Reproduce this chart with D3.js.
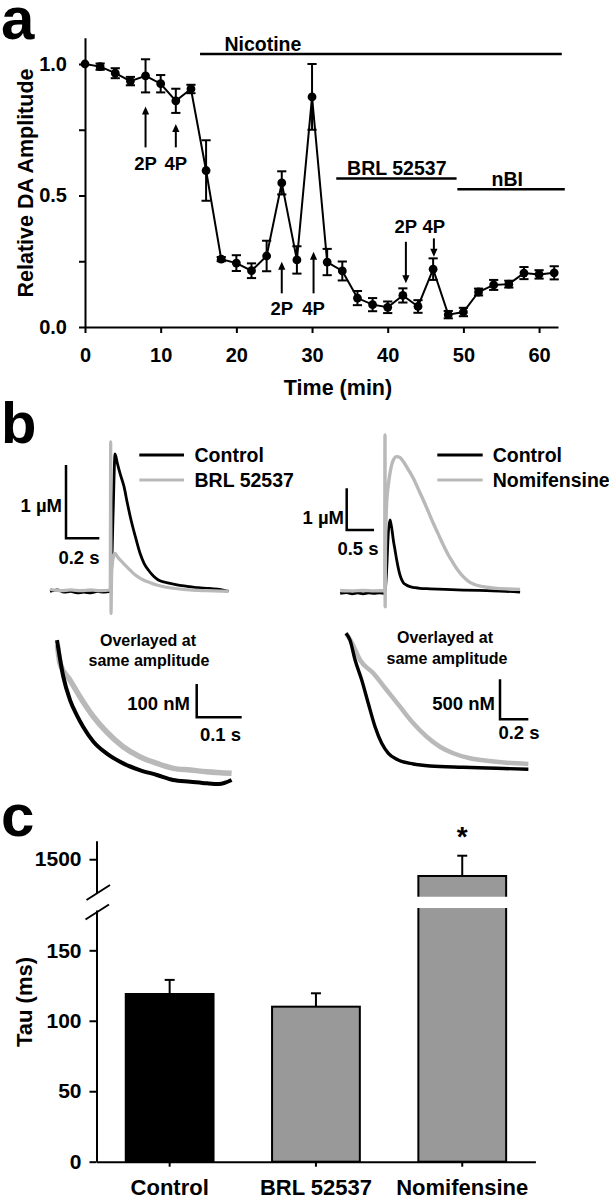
<!DOCTYPE html>
<html><head><meta charset="utf-8">
<script src="https://cdn.jsdelivr.net/npm/d3@7"></script>
<style>
body{margin:0;background:#fff;}
svg text{font-family:"Liberation Sans",Arial,sans-serif;font-weight:bold;fill:#000;}
</style></head><body>
<script>
// ================= DATA =================
// Panel a: relative DA amplitude over time
const timeMin = [0,2,4,6,8,10,12,14,16,18,20,22,24,26,28,30,32,34,36,38,40,42,44,46,48,50,52,54,56,58,60,62];
const amplitude = [1.00,0.99,0.965,0.935,0.955,0.925,0.86,0.905,0.595,0.258,0.243,0.214,0.27,0.548,0.255,0.875,0.247,0.213,0.11,0.085,0.075,0.12,0.078,0.22,0.047,0.057,0.133,0.16,0.163,0.205,0.2,0.206];
const amplitudeSEM = [0,0.012,0.019,0.016,0.063,0.033,0.046,0.016,0.115,0.008,0.03,0.028,0.058,0.044,0.052,0.125,0.05,0.036,0.027,0.025,0.022,0.027,0.024,0.041,0.014,0.016,0.013,0.019,0.013,0.023,0.016,0.025];
const aXTicks = [0,10,20,30,40,50,60];
const aYTicks = [0,0.25,0.5,0.75,1.0];
const aYLabels = ["0.0","","0.5","","1.0"];

const drugNames = ["Nicotine","BRL 52537","nBI"];
const drugStart = [15.2,33.2,49.2];
const drugEnd = [63.0,49.1,63.4];
const drugLevel = [1.038,0.565,0.524];
const drugLabelTime = [23.5,41.2,55.8];

const pulseLabels = ["2P","4P","2P","4P","2P","4P"];
const pulseTime = [8,12,26,30.2,42.4,46.1];
const arrowTail = [0.683,0.683,0.128,0.128,0.324,0.337];
const arrowHead = [0.838,0.772,0.248,0.286,0.166,0.267];
const pulseLabelLevel = [0.622,0.622,0.071,0.071,0.381,0.381];

// Panel b: voltammetric traces [time (s), concentration (µM)]
const ctrlTraceBRL = [[-0.364,-0.01],[-0.32,0.01],[-0.28,-0.02],[-0.24,-0.01],[-0.2,-0.03],[-0.16,-0.02],[-0.12,-0.03],[-0.08,-0.01],[-0.04,-0.02],[-0.004,-0.01],[0.004,0.2],[0.015,1.1],[0.026,1.865],[0.04,1.738],[0.056,1.6],[0.08,1.419],[0.1,1.192],[0.122,0.965],[0.148,0.737],[0.176,0.51],[0.2,0.374],[0.226,0.282],[0.256,0.2],[0.286,0.146],[0.326,0.115],[0.376,0.091],[0.426,0.07],[0.476,0.055],[0.526,0.04],[0.576,0.033],[0.64,0.02],[0.706,-0.01]];
const brlTrace = [[-0.364,0.02],[-0.3,0.0],[-0.24,0.01],[-0.18,0.0],[-0.12,0.01],[-0.06,0.0],[-0.003,0.01],[0,2.03],[0.002,-0.31],[0.006,0.25],[0.015,0.45],[0.026,0.51],[0.04,0.464],[0.076,0.374],[0.106,0.305],[0.136,0.237],[0.166,0.185],[0.196,0.146],[0.236,0.11],[0.276,0.078],[0.326,0.05],[0.376,0.033],[0.426,0.02],[0.476,0.01],[0.576,0.0],[0.706,-0.01]];
const ctrlTraceNom = [[-0.82,-0.04],[-0.7,-0.02],[-0.6,-0.05],[-0.5,-0.03],[-0.4,-0.05],[-0.3,-0.03],[-0.2,-0.04],[-0.1,-0.03],[-0.005,-0.04],[0.03,0.52],[0.06,1.4],[0.091,1.72],[0.11,1.62],[0.128,1.48],[0.152,1.24],[0.183,1.0],[0.214,0.76],[0.244,0.56],[0.274,0.4],[0.305,0.29],[0.335,0.216],[0.39,0.16],[0.457,0.12],[0.55,0.095],[0.64,0.08],[0.823,0.07],[1.1,0.055],[1.43,0.04],[1.86,0.024],[2.2,0.01],[2.47,-0.01]];
const nomTrace = [[-0.82,0.03],[-0.6,0.02],[-0.4,0.03],[-0.2,0.02],[-0.005,0.03],[0,3.76],[0.003,-0.36],[0.008,1.0],[0.03,2.12],[0.061,2.56],[0.091,2.84],[0.152,3.16],[0.214,3.24],[0.274,3.22],[0.335,3.12],[0.426,2.93],[0.518,2.72],[0.609,2.46],[0.7,2.2],[0.792,1.92],[0.883,1.64],[0.975,1.38],[1.066,1.12],[1.158,0.88],[1.25,0.68],[1.34,0.5],[1.43,0.36],[1.52,0.256],[1.615,0.184],[1.8,0.12],[2.04,0.08],[2.25,0.065],[2.47,0.056]];
const ctrlOverlayBRL = [[0,0.45],[0.014,0.34],[0.029,0.27],[0.044,0.225],[0.058,0.19],[0.081,0.145],[0.11,0.11],[0.147,0.08],[0.184,0.06],[0.222,0.045],[0.258,0.03],[0.296,0.025],[0.333,0.02],[0.36,0.018],[0.388,0.03]];
const brlOverlay = [[0.001,0.435],[0.0067,0.38],[0.029,0.33],[0.051,0.28],[0.081,0.22],[0.11,0.175],[0.147,0.13],[0.184,0.1],[0.222,0.08],[0.258,0.065],[0.296,0.06],[0.333,0.055],[0.388,0.05]];
const ctrlOverlayNom = [[0,1.71],[0.028,1.625],[0.064,1.375],[0.111,1.125],[0.157,0.834],[0.205,0.541],[0.252,0.334],[0.299,0.209],[0.358,0.134],[0.475,0.075],[0.593,0.05],[0.828,0.034],[1.064,0.021],[1.287,0.009]];
const nomOverlay = [[0,1.71],[0.042,1.59],[0.099,1.375],[0.193,1.209],[0.287,1.0],[0.381,0.791],[0.475,0.584],[0.57,0.416],[0.663,0.291],[0.757,0.209],[0.875,0.146],[0.993,0.116],[1.134,0.091],[1.287,0.075]];

// Panel c: decay constant
const tauGroups = ["Control","BRL 52537","Nomifensine"];
const tauMean = [119,110,1433];
const tauSEM = [10,9.5,81];
const cLowTicks = [0,50,100,150];
const cHighTicks = [1500];

// ================= DRAW =================
const W = 609, H = 1199;
const svg = d3.select("body").append("svg").attr("width",W).attr("height",H).style("display","block");
svg.append("rect").attr("width",W).attr("height",H).attr("fill","#fff");
const GRAY = "#b9b9b9";

function styleAxis(g, fs){
  g.attr("font-size",fs);
  g.selectAll("path,line").attr("stroke","#000").attr("stroke-width",2);
  g.selectAll("text").attr("fill","#000");
}

// panel letters
svg.append("text").attr("x",1).attr("y",39).attr("font-size",60).text("a");
svg.append("text").attr("x",1).attr("y",443).attr("font-size",58).text("b");
svg.append("text").attr("x",1).attr("y",836).attr("font-size",60).text("c");

// ---------- Panel a ----------
const xA = d3.scaleLinear().domain([0,62.5]).range([85,558]);
const yA = d3.scaleLinear().domain([0,1.1]).range([327,37.7]);
const gA = svg.append("g");

gA.append("g").attr("transform",`translate(${xA(0)},0)`)
  .call(d3.axisLeft(yA).tickValues(aYTicks).tickFormat((d,i)=>aYLabels[i]).tickSize(6).tickSizeOuter(0).tickPadding(12))
  .call(g=>styleAxis(g,20));
gA.append("g").attr("transform",`translate(0,${yA(0)})`)
  .call(d3.axisBottom(xA).tickValues(aXTicks).tickSize(6).tickSizeOuter(0).tickPadding(15))
  .call(g=>styleAxis(g,20));

gA.append("text").attr("x",338).attr("y",387).attr("dy","0.35em").attr("text-anchor","middle").attr("font-size",21.5).text("Time (min)");
gA.append("text").attr("transform","translate(25,183) rotate(-90)").attr("dy","0.35em").attr("text-anchor","middle").attr("font-size",21.5).text("Relative DA Amplitude");

// error bars
const eb = gA.append("g").attr("stroke","#000").attr("stroke-width",2);
timeMin.forEach((t,i)=>{
  const v = amplitude[i], e = amplitudeSEM[i];
  if (e<=0) return;
  const x = xA(t);
  eb.append("line").attr("x1",x).attr("x2",x).attr("y1",yA(v-e)).attr("y2",yA(v+e));
  eb.append("line").attr("x1",x-4.6).attr("x2",x+4.6).attr("y1",yA(v-e)).attr("y2",yA(v-e));
  eb.append("line").attr("x1",x-4.6).attr("x2",x+4.6).attr("y1",yA(v+e)).attr("y2",yA(v+e));
});
gA.append("path").datum(amplitude)
  .attr("d",d3.line().x((d,i)=>xA(timeMin[i])).y(d=>yA(d)))
  .attr("fill","none").attr("stroke","#000").attr("stroke-width",2);
gA.selectAll("circle.pt").data(amplitude).join("circle")
  .attr("cx",(d,i)=>xA(timeMin[i])).attr("cy",d=>yA(d)).attr("r",4.4).attr("fill","#000");

// drug bars
drugNames.forEach((n,i)=>{
  gA.append("line").attr("x1",xA(drugStart[i])).attr("x2",xA(drugEnd[i]))
    .attr("y1",yA(drugLevel[i])).attr("y2",yA(drugLevel[i])).attr("stroke","#000").attr("stroke-width",2.5);
  gA.append("text").attr("x",xA(drugLabelTime[i])).attr("y",yA(drugLevel[i])-3.5)
    .attr("text-anchor","middle").attr("font-size",19.5).text(n);
});

// pulse arrows
pulseLabels.forEach((lab,i)=>{
  const x = xA(pulseTime[i]);
  const yT = yA(arrowTail[i]), yH = yA(arrowHead[i]);
  const dir = yH < yT ? -1 : 1;  // -1 = up
  const hl = 8, hw = 3.6;
  gA.append("line").attr("x1",x).attr("x2",x).attr("y1",yT).attr("y2",yH - dir*hl*0.6)
    .attr("stroke","#000").attr("stroke-width",2);
  gA.append("path").attr("d",`M${x},${yH} L${x-hw},${yH-dir*hl} L${x+hw},${yH-dir*hl} Z`).attr("fill","#000");
  gA.append("text").attr("x",x).attr("y",yA(pulseLabelLevel[i])).attr("dy","0.36em")
    .attr("text-anchor","middle").attr("font-size",18.5).text(lab);
});

// ---------- Panel b ----------
const gB = svg.append("g");
function traceLine(xs, ys){ return d3.line().x(d=>xs(d[0])).y(d=>ys(d[1])).curve(d3.curveMonotoneX); }
function drawTrace(data, xs, ys, color, w){
  gB.append("path").datum(data).attr("d",traceLine(xs,ys)).attr("fill","none")
    .attr("stroke",color).attr("stroke-width",w).attr("stroke-linejoin","round");
}
function scaleBar(x0,y0,xs,ys,tLen,cLen){
  const dx = xs(tLen)-xs(0), dy = ys(0)-ys(cLen);
  gB.append("path").attr("d",`M${x0},${y0-dy} L${x0},${y0} L${x0+dx},${y0}`)
    .attr("fill","none").attr("stroke","#000").attr("stroke-width",2.5);
}
function txt(x,y,s,anchor,fs){
  gB.append("text").attr("x",x).attr("y",y).attr("dy","0.36em").attr("text-anchor",anchor).attr("font-size",fs).text(s);
}

// top-left
const xB1 = d3.scaleLinear().domain([0,1]).range([110.7,110.7+166.7]);
const yB1 = d3.scaleLinear().domain([0,1]).range([590.7,590.7-73.3]);
drawTrace(ctrlTraceBRL,xB1,yB1,"#000",2.8);
drawTrace(brlTrace,xB1,yB1,GRAY,3.2);
scaleBar(66,538.3,xB1,yB1,0.2,1);
txt(62,505,"1 µM","end",18.5);
txt(79,557,"0.2 s","middle",18.5);
gB.append("line").attr("x1",139.3).attr("x2",184).attr("y1",455).attr("y2",455).attr("stroke","#000").attr("stroke-width",3);
gB.append("line").attr("x1",139.3).attr("x2",184).attr("y1",480).attr("y2",480).attr("stroke",GRAY).attr("stroke-width",3);
txt(194.5,455,"Control","start",19.5);
txt(194.5,480,"BRL 52537","start",19.5);

// top-right
const xB2 = d3.scaleLinear().domain([0,1]).range([385,385+54.7]);
const yB2 = d3.scaleLinear().domain([0,1]).range([591.7,591.7-41.7]);
drawTrace(ctrlTraceNom,xB2,yB2,"#000",2.8);
drawTrace(nomTrace,xB2,yB2,GRAY,3.4);
scaleBar(346.7,530,xB2,yB2,0.5,1);
txt(344,517,"1 µM","end",18.5);
txt(358,548,"0.5 s","middle",18.5);
gB.append("line").attr("x1",437.3).attr("x2",482.7).attr("y1",455).attr("y2",455).attr("stroke","#000").attr("stroke-width",3);
gB.append("line").attr("x1",437.3).attr("x2",482.7).attr("y1",480).attr("y2",480).attr("stroke",GRAY).attr("stroke-width",3);
txt(492.7,455,"Control","start",19.5);
txt(492.7,480,"Nomifensine","start",19.5);

// bottom-left overlay
const xB3 = d3.scaleLinear().domain([0,1]).range([57,57+450]);
const yB3 = d3.scaleLinear().domain([0,1]).range([790,790-333]);
drawTrace(brlOverlay,xB3,yB3,GRAY,5.5);
drawTrace(ctrlOverlayBRL,xB3,yB3,"#000",4);
scaleBar(196.7,717.3,xB3,yB3,0.1,0.1);
txt(190,703,"100 nM","end",18.5);
txt(220.5,734,"0.1 s","middle",18.5);
txt(148,640,"Overlayed at","middle",16);
txt(149,660,"same amplitude","middle",16);

// bottom-right overlay
const xB4 = d3.scaleLinear().domain([0,1]).range([346,346+141.7]);
const yB4 = d3.scaleLinear().domain([0,1]).range([770,770-80]);
drawTrace(nomOverlay,xB4,yB4,GRAY,4.5);
drawTrace(ctrlOverlayNom,xB4,yB4,"#000",3.4);
scaleBar(500,719.3,xB4,yB4,0.2,0.5);
txt(495,703.5,"500 nM","end",18.5);
txt(519,732,"0.2 s","middle",18.5);
txt(445,637,"Overlayed at","middle",16);
txt(447,658,"same amplitude","middle",16);

// ---------- Panel c ----------
const gC = svg.append("g");
const xC = d3.scaleBand().domain(tauGroups).range([96.5,535.4]).paddingInner(0.4).paddingOuter(0.2);
const yLow = d3.scaleLinear().domain([0,178.6]).range([1161.7,910]);
const yHigh = d3.scaleLinear().domain([1365,1574]).range([893,840.7]);
const barFill = ["#000","#999","#999"];

gC.append("g").attr("transform","translate(96.5,0)")
  .call(d3.axisLeft(yLow).tickValues(cLowTicks).tickFormat(d3.format("d")).tickSize(7).tickSizeOuter(0).tickPadding(8))
  .call(g=>styleAxis(g,21));
gC.append("g").attr("transform","translate(96.5,0)")
  .call(d3.axisLeft(yHigh).tickValues(cHighTicks).tickFormat(d3.format("d")).tickSize(7).tickSizeOuter(0).tickPadding(8))
  .call(g=>styleAxis(g,21));
// axis break marks
gC.append("line").attr("x1",86.5).attr("y1",900).attr("x2",110).attr("y2",885).attr("stroke","#000").attr("stroke-width",2);
gC.append("line").attr("x1",85.5).attr("y1",919.5).attr("x2",109).attr("y2",904.5).attr("stroke","#000").attr("stroke-width",2);

tauGroups.forEach((gname,i)=>{
  const x = xC(gname), bw = xC.bandwidth();
  const broken = tauMean[i] > yLow.domain()[1];
  const yTop = broken ? yHigh(tauMean[i]) : yLow(tauMean[i]);
  const yErr = broken ? yHigh(tauMean[i]+tauSEM[i]) : yLow(tauMean[i]+tauSEM[i]);
  const cx = x + bw/2;
  gC.append("line").attr("x1",cx).attr("x2",cx).attr("y1",yTop).attr("y2",yErr).attr("stroke","#000").attr("stroke-width",2);
  gC.append("line").attr("x1",cx-5).attr("x2",cx+5).attr("y1",yErr).attr("y2",yErr).attr("stroke","#000").attr("stroke-width",2);
  gC.append("rect").attr("x",x).attr("y",yTop).attr("width",bw).attr("height",yLow(0)-yTop)
    .attr("fill",barFill[i]).attr("stroke","#000").attr("stroke-width",2);
  if (broken){
    const g1 = yHigh(1350), g2 = yLow(180);
    gC.append("rect").attr("x",x-2).attr("y",g1).attr("width",bw+4).attr("height",g2-g1).attr("fill","#fff");
    gC.append("text").attr("x",cx).attr("y",846).attr("text-anchor","middle").attr("font-size",28).text("*");
  }
});

gC.append("g").attr("transform",`translate(0,${yLow(0)})`)
  .call(d3.axisBottom(xC).tickSize(5).tickSizeOuter(0).tickPadding(13))
  .call(g=>styleAxis(g,22));

gC.append("text").attr("transform","translate(24,1002) rotate(-90)").attr("dy","0.35em")
  .attr("text-anchor","middle").attr("font-size",22).text("Tau (ms)");
</script>
</body></html>
